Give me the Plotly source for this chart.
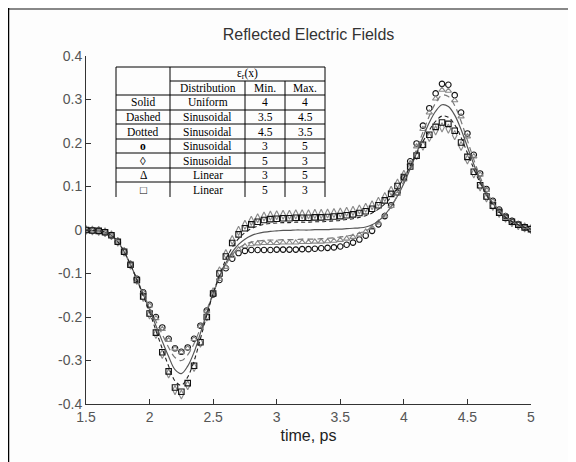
import plotly.graph_objects as go

# ---------------- data ----------------
time_ps = [round(1.5 + 0.05 * i, 2) for i in range(71)]

solid = [0.000, -0.001, -0.002, -0.005, -0.012, -0.027, -0.050, -0.080, -0.113, -0.148,
         -0.183, -0.220, -0.256, -0.291, -0.321, -0.330, -0.313, -0.281, -0.237, -0.190,
         -0.146, -0.108, -0.076, -0.051, -0.033, -0.021, -0.013, -0.008, -0.005, -0.003,
         -0.002, -0.001, -0.001, 0.000, 0.000, 0.000, 0.001, 0.001, 0.001, 0.002,
         0.002, 0.003, 0.004, 0.005, 0.007, 0.012, 0.021, 0.035, 0.054, 0.078,
         0.107, 0.141, 0.177, 0.213, 0.247, 0.273, 0.288, 0.284, 0.264, 0.231,
         0.191, 0.151, 0.114, 0.084, 0.061, 0.043, 0.030, 0.020, 0.012, 0.006, 0.002]

dashed = [0.000, -0.001, -0.002, -0.005, -0.012, -0.027, -0.050, -0.080, -0.113, -0.146,
          -0.178, -0.210, -0.240, -0.270, -0.293, -0.300, -0.287, -0.261, -0.225, -0.184,
          -0.145, -0.110, -0.080, -0.057, -0.042, -0.033, -0.028, -0.025, -0.024, -0.023,
          -0.023, -0.022, -0.022, -0.022, -0.021, -0.021, -0.021, -0.020, -0.019, -0.018,
          -0.016, -0.014, -0.011, -0.007, -0.002, 0.006, 0.017, 0.033, 0.054, 0.080,
          0.112, 0.148, 0.186, 0.225, 0.262, 0.292, 0.310, 0.307, 0.286, 0.250,
          0.206, 0.162, 0.122, 0.089, 0.064, 0.045, 0.031, 0.020, 0.012, 0.006, 0.002]

dotted = [0.000, -0.001, -0.002, -0.005, -0.012, -0.027, -0.050, -0.080, -0.114, -0.151,
          -0.189, -0.231, -0.273, -0.313, -0.347, -0.357, -0.338, -0.301, -0.250, -0.196,
          -0.146, -0.104, -0.068, -0.040, -0.020, -0.006, 0.003, 0.009, 0.013, 0.015,
          0.016, 0.017, 0.017, 0.018, 0.018, 0.018, 0.019, 0.019, 0.020, 0.021,
          0.022, 0.024, 0.026, 0.029, 0.033, 0.039, 0.048, 0.060, 0.076, 0.096,
          0.120, 0.147, 0.175, 0.203, 0.229, 0.250, 0.262, 0.259, 0.242, 0.213,
          0.177, 0.141, 0.108, 0.080, 0.058, 0.041, 0.029, 0.019, 0.012, 0.006, 0.002]

circles = [0.000, -0.001, -0.002, -0.005, -0.012, -0.027, -0.050, -0.080, -0.112, -0.143,
           -0.172, -0.200, -0.224, -0.250, -0.272, -0.280, -0.270, -0.250, -0.220, -0.185,
           -0.148, -0.115, -0.088, -0.066, -0.053, -0.048, -0.046, -0.046, -0.046, -0.046,
           -0.045, -0.045, -0.045, -0.045, -0.044, -0.044, -0.043, -0.042, -0.041, -0.040,
           -0.038, -0.034, -0.029, -0.022, -0.013, -0.002, 0.013, 0.032, 0.057, 0.086,
           0.120, 0.158, 0.199, 0.240, 0.280, 0.314, 0.336, 0.334, 0.310, 0.270,
           0.222, 0.173, 0.130, 0.094, 0.067, 0.047, 0.032, 0.021, 0.013, 0.007, 0.002]

diamonds = [0.000, -0.001, -0.002, -0.005, -0.012, -0.027, -0.050, -0.080, -0.115, -0.154,
            -0.194, -0.239, -0.285, -0.330, -0.368, -0.378, -0.357, -0.315, -0.259, -0.199,
            -0.143, -0.095, -0.055, -0.023, -0.002, 0.012, 0.021, 0.027, 0.031, 0.033,
            0.034, 0.035, 0.035, 0.036, 0.036, 0.036, 0.037, 0.037, 0.038, 0.039,
            0.040, 0.042, 0.044, 0.047, 0.051, 0.057, 0.065, 0.076, 0.090, 0.107,
            0.127, 0.149, 0.172, 0.194, 0.214, 0.229, 0.236, 0.233, 0.218, 0.193,
            0.162, 0.130, 0.100, 0.075, 0.055, 0.039, 0.028, 0.018, 0.011, 0.006, 0.002]

triangles = [0.000, -0.001, -0.002, -0.005, -0.012, -0.027, -0.050, -0.080, -0.112, -0.144,
             -0.174, -0.203, -0.228, -0.253, -0.273, -0.281, -0.272, -0.251, -0.221, -0.186,
             -0.148, -0.113, -0.085, -0.060, -0.045, -0.037, -0.033, -0.031, -0.030, -0.030,
             -0.030, -0.029, -0.029, -0.029, -0.028, -0.028, -0.027, -0.027, -0.026, -0.025,
             -0.023, -0.020, -0.016, -0.011, -0.004, 0.005, 0.017, 0.033, 0.055, 0.083,
             0.116, 0.153, 0.192, 0.232, 0.270, 0.302, 0.322, 0.320, 0.298, 0.261,
             0.215, 0.169, 0.127, 0.092, 0.066, 0.046, 0.032, 0.021, 0.013, 0.007, 0.002]

squares = [0.000, -0.001, -0.002, -0.005, -0.012, -0.027, -0.050, -0.080, -0.115, -0.153,
           -0.192, -0.236, -0.281, -0.325, -0.362, -0.372, -0.352, -0.312, -0.258, -0.200,
           -0.146, -0.100, -0.061, -0.030, -0.010, 0.004, 0.013, 0.019, 0.023, 0.025,
           0.026, 0.027, 0.027, 0.028, 0.028, 0.028, 0.029, 0.029, 0.030, 0.031,
           0.032, 0.034, 0.036, 0.039, 0.043, 0.049, 0.057, 0.068, 0.083, 0.101,
           0.122, 0.146, 0.171, 0.196, 0.219, 0.237, 0.247, 0.244, 0.228, 0.201,
           0.168, 0.134, 0.103, 0.077, 0.056, 0.040, 0.028, 0.019, 0.012, 0.006, 0.002]

x_ticks = [1.5, 2, 2.5, 3, 3.5, 4, 4.5, 5]
x_tick_text = ["1.5", "2", "2.5", "3", "3.5", "4", "4.5", "5"]
y_ticks = [-0.4, -0.3, -0.2, -0.1, 0, 0.1, 0.2, 0.3, 0.4]
y_tick_text = ["-0.4", "-0.3", "-0.2", "-0.1", "0", "0.1", "0.2", "0.3", "0.4"]

table_header = ["Distribution", "Min.", "Max."]
table_style = ["Solid", "Dashed", "Dotted", "<b>o</b>", "◊", "Δ", "<b>□</b>"]
table_dist = ["Uniform", "Sinusoidal", "Sinusoidal", "Sinusoidal", "Sinusoidal", "Linear", "Linear"]
table_min = ["4", "3.5", "4.5", "3", "5", "3", "5"]
table_max = ["4", "4.5", "3.5", "5", "3", "5", "3"]

# ---------------- figure ----------------
OFF = 8                      # page body margin of the html page
W, H = 576 - OFF, 462 - OFF
L, R, T, B = 86, 531, 56, 404   # plot area in page pixels

def px(x):
    return (x - L) / (R - L)

def py(y):
    return (B - y) / (B - T)

fig = go.Figure()

fig.add_trace(go.Scatter(x=time_ps, y=circles, mode="markers", name="circles",
                         marker=dict(symbol="circle-open", size=5.5, color="#111", line=dict(width=1.1))))
fig.add_trace(go.Scatter(x=time_ps, y=diamonds, mode="markers", name="diamonds",
                         marker=dict(symbol="diamond-tall-open", size=6.5, color="#888", line=dict(width=1.1))))
fig.add_trace(go.Scatter(x=time_ps, y=triangles, mode="markers", name="triangles",
                         marker=dict(symbol="triangle-up-open", size=5.5, color="#888", line=dict(width=1.1))))
fig.add_trace(go.Scatter(x=time_ps, y=squares, mode="markers", name="squares",
                         marker=dict(symbol="square-open", size=5.5, color="#111", line=dict(width=1.1))))
fig.add_trace(go.Scatter(x=time_ps, y=solid, mode="lines", name="Solid",
                         line=dict(color="#555", width=1.2, shape="spline")))
fig.add_trace(go.Scatter(x=time_ps, y=dashed, mode="lines", name="Dashed",
                         line=dict(color="#777", width=1.2, dash="6px,4px", shape="spline")))
fig.add_trace(go.Scatter(x=time_ps, y=dotted, mode="lines", name="Dotted",
                         line=dict(color="#222", width=1.1, dash="4px,3px", shape="spline")))

# table (page pixel coordinates)
tx = [116, 170, 245, 285, 325]
ty = [67, 81, 95, 110, 124, 139, 153, 168, 182, 197]
line_col = "#000"
shapes = []
def seg(x0, y0, x1, y1, color=line_col, width=1):
    shapes.append(dict(type="line", xref="paper", yref="paper",
                       x0=px(x0), y0=py(y0), x1=px(x1), y1=py(y1),
                       line=dict(color=color, width=width)))
seg(tx[0], ty[0], tx[4], ty[0])
seg(tx[1], ty[1], tx[4], ty[1])
for yy in ty[2:-1]:
    seg(tx[0], yy, tx[4], yy)
seg(tx[0], ty[0], tx[0], ty[-1])
seg(tx[1], ty[0], tx[1], ty[-1])
seg(tx[2], ty[1], tx[2], ty[-1])
seg(tx[3], ty[1], tx[3], ty[-1])
seg(tx[4], ty[0], tx[4], ty[-1])

# figure frame lines
seg(8, 9, 576 + 10, 9, color="#888", width=2)
seg(8.5, 8, 8.5, 462 + 10, color="#000", width=1.5)

annotations = []
def txt(x, y, s, size=11.5):
    annotations.append(dict(x=px(x), y=py(y), xref="paper", yref="paper", text=s,
                            showarrow=False, xanchor="center", yanchor="middle",
                            font=dict(family="Liberation Serif, Times New Roman, serif",
                                      size=size, color="#000")))

txt((tx[1] + tx[4]) / 2, (ty[0] + ty[1]) / 2, "ε<sub>r</sub>(x)")
for j, h in enumerate(table_header):
    txt((tx[j + 1] + tx[j + 2]) / 2, (ty[1] + ty[2]) / 2, h)
for i in range(7):
    yc = (ty[i + 2] + ty[i + 3]) / 2
    txt((tx[0] + tx[1]) / 2, yc, table_style[i])
    txt((tx[1] + tx[2]) / 2, yc, table_dist[i])
    txt((tx[2] + tx[3]) / 2, yc, table_min[i])
    txt((tx[3] + tx[4]) / 2, yc, table_max[i])

fig.update_layout(
    width=W, height=H,
    margin=dict(l=L - OFF, r=576 - R, t=T - OFF, b=462 - B, autoexpand=False),
    paper_bgcolor="#fdfdfd", plot_bgcolor="#fdfdfd",
    showlegend=False,
    title=dict(text="Reflected Electric Fields", x=((L + R) / 2 - OFF) / W, xanchor="center",
               y=1 - (34 - OFF) / H, yanchor="middle",
               font=dict(family="Liberation Sans, Arial, sans-serif", size=16, color="#333")),
    shapes=shapes,
    annotations=annotations,
    font=dict(family="Liberation Sans, Arial, sans-serif"),
)
fig.update_xaxes(range=[1.5, 5], tickvals=x_ticks, ticktext=x_tick_text,
                 showgrid=False, zeroline=False, showline=True, linecolor="#333", linewidth=1,
                 ticks="inside", ticklen=5, tickcolor="#333",
                 tickfont=dict(size=14, color="#555"),
                 title=dict(text="time, ps", font=dict(size=16, color="#222"), standoff=6))
fig.update_yaxes(range=[-0.4, 0.4], tickvals=y_ticks, ticktext=y_tick_text,
                 showgrid=False, zeroline=False, showline=True, linecolor="#333", linewidth=1,
                 ticks="inside", ticklen=5, tickcolor="#333",
                 tickfont=dict(size=14, color="#555"))

fig.write_html("out.html")
